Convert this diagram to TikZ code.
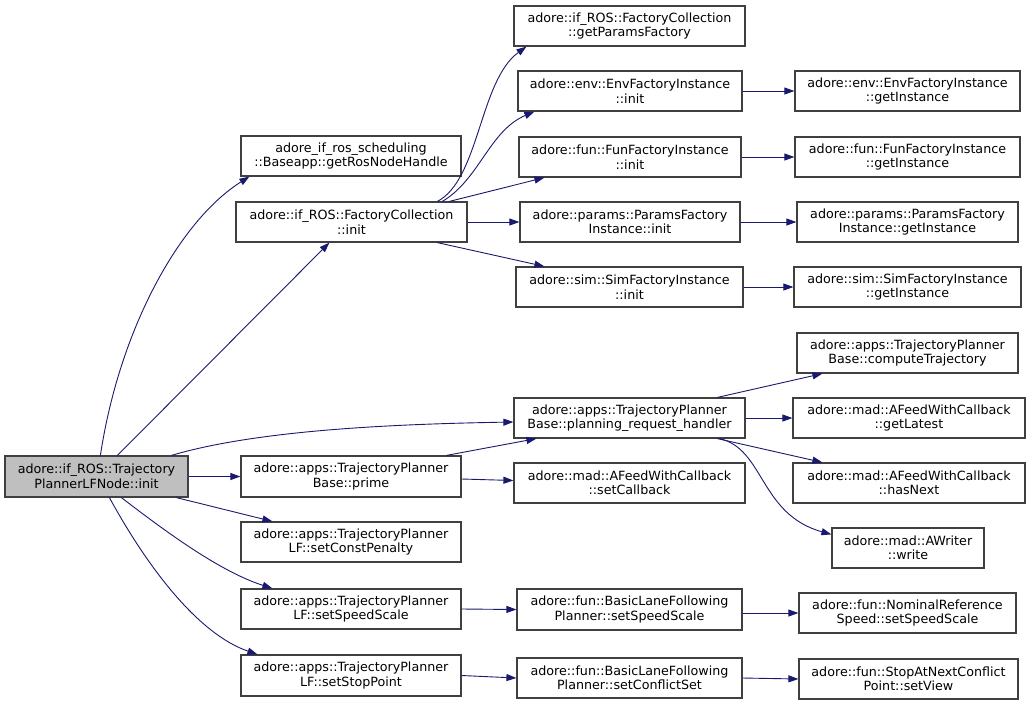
\documentclass[tikz,border=0pt]{standalone}
\usepackage{fontspec}
\setmainfont{DejaVu Sans}
\usetikzlibrary{arrows.meta,calc}
\definecolor{edgeblue}{HTML}{191970}
\definecolor{boxline}{HTML}{404040}
\definecolor{rootfill}{HTML}{BFBFBF}
\begin{document}
\begin{tikzpicture}[x=1pt,y=-1pt,
  fn/.style={draw=boxline,line width=1.2pt,fill=white,inner sep=0pt,align=center,
    minimum height=40pt,font=\fontsize{12.7}{14.5}\selectfont},
  rootbox/.style={fn,fill=rootfill},
  edge/.style={draw=edgeblue,line width=0.9pt,-{Triangle[length=10pt,width=7pt]}}]
\useasboundingbox[fill=white] (0,0) rectangle (1029,705);

% nodes
\node[rootbox,minimum width=183pt,minimum height=41pt] (root) at (96.5,476.5) {adore::if\_ROS::Trajectory\\PlannerLFNode::init};
\node[fn,minimum width=220pt] (getros) at (351,156) {adore\_if\_ros\_scheduling\\::Baseapp::getRosNodeHandle};
\node[fn,minimum width=231pt] (fcinit) at (351.5,222) {adore::if\_ROS::FactoryCollection\\::init};
\node[fn,minimum width=231pt] (getparams) at (629.5,26) {adore::if\_ROS::FactoryCollection\\::getParamsFactory};
\node[fn,minimum width=224pt] (envinit) at (630,91) {adore::env::EnvFactoryInstance\\::init};
\node[fn,minimum width=225pt] (envget) at (907.5,91) {adore::env::EnvFactoryInstance\\::getInstance};
\node[fn,minimum width=222pt] (funinit) at (630,157) {adore::fun::FunFactoryInstance\\::init};
\node[fn,minimum width=225pt] (funget) at (907.5,157) {adore::fun::FunFactoryInstance\\::getInstance};
\node[fn,minimum width=220pt] (parinit) at (630,222) {adore::params::ParamsFactory\\Instance::init};
\node[fn,minimum width=221pt] (parget) at (907.5,222) {adore::params::ParamsFactory\\Instance::getInstance};
\node[fn,minimum width=227pt] (siminit) at (629.5,287) {adore::sim::SimFactoryInstance\\::init};
\node[fn,minimum width=227pt] (simget) at (907.5,287) {adore::sim::SimFactoryInstance\\::getInstance};
\node[fn,minimum width=231pt] (planning) at (629.5,418) {adore::apps::TrajectoryPlanner\\Base::planning\_request\_handler};
\node[fn,minimum width=221pt] (compute) at (907.5,353) {adore::apps::TrajectoryPlanner\\Base::computeTrajectory};
\node[fn,minimum width=232pt] (getlatest) at (909,418) {adore::mad::AFeedWithCallback\\::getLatest};
\node[fn,minimum width=232pt] (hasnext) at (909,483) {adore::mad::AFeedWithCallback\\::hasNext};
\node[fn,minimum width=152pt] (awriter) at (908,548) {adore::mad::AWriter\\::write};
\node[fn,minimum width=220pt,minimum height=41pt] (prime) at (351,476.5) {adore::apps::TrajectoryPlanner\\Base::prime};
\node[fn,minimum width=231pt] (setcb) at (629.5,483) {adore::mad::AFeedWithCallback\\::setCallback};
\node[fn,minimum width=220pt] (constpen) at (351,542) {adore::apps::TrajectoryPlanner\\LF::setConstPenalty};
\node[fn,minimum width=220pt] (lfspeed) at (351,609) {adore::apps::TrajectoryPlanner\\LF::setSpeedScale};
\node[fn,minimum width=225pt,minimum height=41pt] (blfspeed) at (629.5,609.5) {adore::fun::BasicLaneFollowing\\Planner::setSpeedScale};
\node[fn,minimum width=217pt] (nominal) at (907.5,613) {adore::fun::NominalReference\\Speed::setSpeedScale};
\node[fn,minimum width=220pt,minimum height=41pt] (stoppoint) at (351,675.5) {adore::apps::TrajectoryPlanner\\LF::setStopPoint};
\node[fn,minimum width=225pt] (conflict) at (629.5,678) {adore::fun::BasicLaneFollowing\\Planner::setConflictSet};
\node[fn,minimum width=219pt] (stopat) at (908.5,679) {adore::fun::StopAtNextConflict\\Point::setView};

% edges from root
\draw[edge] ($(root.north west)+(96,0)$) .. controls +(19,-126) and +(-70,44) .. ($(getros.south west)+(9,0)$);
\draw[edge] ($(root.north west)+(113,0)$) -- ($(fcinit.south west)+(94,0)$);
\draw[edge] ($(root.north west)+(167,0)$) .. controls +(88,-26) and +(-114,2) .. ($(planning.west)+(0,4)$);
\draw[edge] (root.east) -- (prime.west);
\draw[edge] ($(root.south west)+(172,0)$) -- ($(constpen.north west)+(32,0)$);
\draw[edge] ($(root.south west)+(117,0)$) .. controls +(43,33) and +(-53,-17) .. ($(lfspeed.north west)+(32,0)$);
\draw[edge] ($(root.south west)+(105,0)$) .. controls +(40,73) and +(-58,-20) .. ($(stoppoint.north west)+(17,0)$);

% edges from FactoryCollection::init
\draw[edge] ($(fcinit.north west)+(202,0)$) .. controls +(42,-22) and +(-47,34) .. ($(getparams.south west)+(13,0)$);
\draw[edge] ($(fcinit.north west)+(207,0)$) .. controls +(37,-22) and +(-45,19) .. ($(envinit.south west)+(17,0)$);
\draw[edge] ($(fcinit.north west)+(214,0)$) -- ($(funinit.south west)+(26,0)$);
\draw[edge] (fcinit.east) -- (parinit.west);
\draw[edge] ($(fcinit.south west)+(202,0)$) -- ($(siminit.north west)+(29,0)$);

% factory instance edges
\draw[edge] (envinit.east) -- (envget.west);
\draw[edge] (funinit.east) -- (funget.west);
\draw[edge] (parinit.east) -- (parget.west);
\draw[edge] (siminit.east) -- (simget.west);

% prime edges
\draw[edge] ($(prime.north west)+(206,0)$) -- ($(planning.south west)+(23,0)$);
\draw[edge] ($(prime.east)+(0,2.5)$) -- ($(setcb.west)+(0,-2.5)$);

% planning_request_handler edges
\draw[edge] ($(planning.north west)+(204,0)$) -- ($(compute.south west)+(26,0)$);
\draw[edge] (planning.east) -- (getlatest.west);
\draw[edge] ($(planning.south west)+(204,0)$) -- ($(hasnext.north west)+(30,0)$);
\draw[edge] ($(planning.south west)+(206,0)$) .. controls +(45,10) and +(-72,-20) .. ($(awriter.north west)+(0,7)$);

% speed scale / stop point chains
\draw[edge] (lfspeed.east) -- (blfspeed.west);
\draw[edge] (blfspeed.east |- nominal.west) -- (nominal.west);
\draw[edge] (stoppoint.east) -- (conflict.west);
\draw[edge] (conflict.east) -- (stopat.west);
\end{tikzpicture}
\end{document}
